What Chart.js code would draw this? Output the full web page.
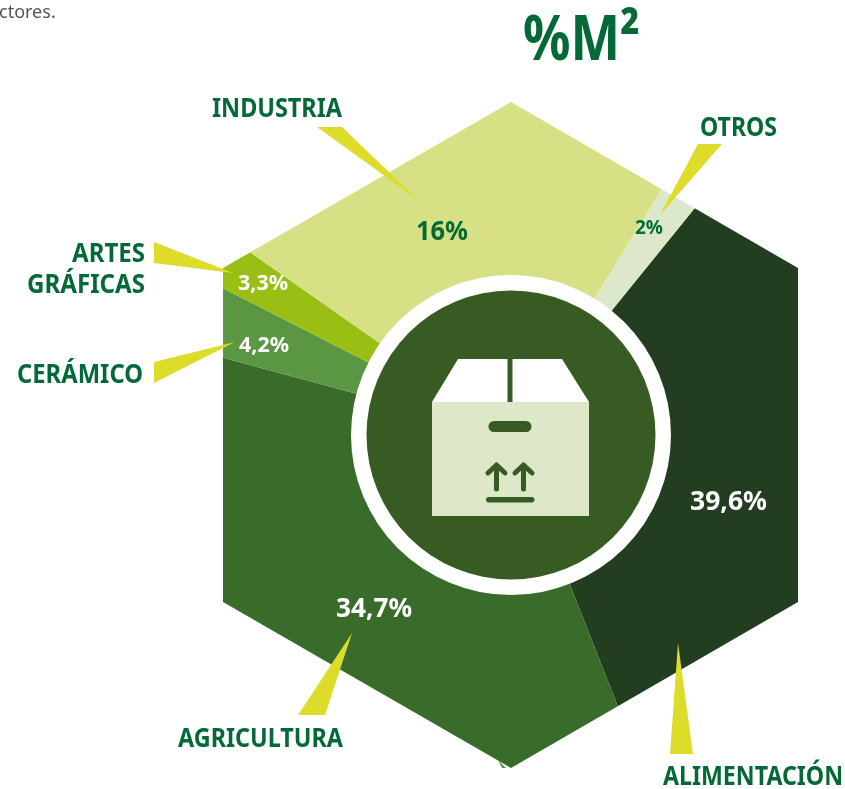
<!DOCTYPE html>
<html lang="es">
<head>
<meta charset="utf-8">
<style>html,body{margin:0;padding:0;background:#fff;overflow:hidden}canvas{display:block}</style>
<script src="https://cdn.jsdelivr.net/npm/chart.js@4"></script>
</head>
<body>
<canvas id="c" width="845" height="789"></canvas>
<script>
const categories = ['ALIMENTACIÓN', 'AGRICULTURA', 'CERÁMICO', 'ARTES GRÁFICAS', 'INDUSTRIA', 'OTROS'];
// Percentages as printed on the reference.
const printedShares = ['39,6%', '34,7%', '4,2%', '3,3%', '16%', '2%'];
// The reference's wedges are not proportional to its printed percentages,
// so the slices use the sweep angles (degrees) measured on the picture.
const drawnSweepDegrees = [119.5, 126.5, 12, 8, 86.5, 7.5];
const sliceColors = ['#223d20', '#396c2a', '#5b9642', '#99bf15', '#d8e085', '#dce8c9'];

const GREEN = '#036937', YELLOW = '#dddc2a', DISC = '#385a23', BOX = '#dde8c9';
const HEX = [[511,102],[798,268],[798,602],[511,768],[223,602],[223,268]];
const POINTERS = [
  [[317,127],[342,127],[418,200]],
  [[698,144],[722,144],[660,215]],
  [[154,242],[154,263],[233,273]],
  [[154,362],[154,383],[235,342]],
  [[298,715],[325,715],[352,633]],
  [[670,754],[693,754],[678,643]]
];
// text, left x, baseline y, width, font px, colour, weight
const TEXTS = [
  ['ctores.', -1, 18, 57, 18, '#555555', 400],
  ['%M²', 523, 60, 117, 62, GREEN, 700],
  ['INDUSTRIA', 212, 117, 130, 27, GREEN, 700],
  ['OTROS', 700, 136, 77, 27, GREEN, 700],
  ['ARTES', 72, 262, 73, 27, GREEN, 700],
  ['GRÁFICAS', 27, 293, 118, 27, GREEN, 700],
  ['CERÁMICO', 17, 383, 126, 27, GREEN, 700],
  ['AGRICULTURA', 178, 747, 165, 27, GREEN, 700],
  ['ALIMENTACIÓN', 663, 785, 180, 27, GREEN, 700],
  [printedShares[4], 416, 240, 52, 27, GREEN, 700],
  [printedShares[5], 635, 234, 28, 19, GREEN, 700],
  [printedShares[3], 238, 290, 50, 22, '#ffffff', 700],
  [printedShares[2], 239, 352, 50, 22, '#ffffff', 700],
  [printedShares[0], 690, 510, 77, 27, '#ffffff', 700],
  [printedShares[1], 336, 617, 76, 27, '#ffffff', 700]
];

function poly(ctx, pts, fill) {
  ctx.beginPath();
  pts.forEach((p, i) => i ? ctx.lineTo(p[0], p[1]) : ctx.moveTo(p[0], p[1]));
  ctx.closePath();
  if (fill) { ctx.fillStyle = fill; ctx.fill(); }
}
function roundBar(ctx, x, y, w, h, fill) {
  ctx.beginPath();
  ctx.roundRect(x, y, w, h, h / 2);
  ctx.fillStyle = fill;
  ctx.fill();
}
function arrow(ctx, x) {
  ctx.strokeStyle = DISC;
  ctx.lineWidth = 5;
  ctx.lineCap = 'round';
  ctx.lineJoin = 'round';
  ctx.beginPath();
  ctx.moveTo(x, 489); ctx.lineTo(x, 466);
  ctx.moveTo(x - 8.5, 473); ctx.lineTo(x, 465); ctx.lineTo(x + 8.5, 473);
  ctx.stroke();
}

const hexagonPie = {
  id: 'hexagonPie',
  beforeDatasetsDraw(chart) {
    const ctx = chart.ctx;
    ctx.save();
    poly(ctx, HEX);
    ctx.clip();
  },
  afterDatasetsDraw(chart) {
    const ctx = chart.ctx;
    ctx.restore();
    const arc = chart.getDatasetMeta(0).data[0];
    const cx = arc.x, cy = arc.y;
    ctx.save();
    poly(ctx, [[498,760],[506,768],[502,768]], sliceColors[2]);
    ctx.beginPath(); ctx.arc(cx, cy, 160, 0, Math.PI * 2); ctx.fillStyle = '#fff'; ctx.fill();
    ctx.beginPath(); ctx.arc(cx, cy, 144.5, 0, Math.PI * 2); ctx.fillStyle = DISC; ctx.fill();
    // parcel icon
    poly(ctx, [[458,359],[562,359],[589,402],[432,402]], '#ffffff');
    ctx.fillStyle = DISC; ctx.fillRect(507.5, 359, 5, 43);
    ctx.fillStyle = BOX; ctx.fillRect(432, 402, 157, 114);
    roundBar(ctx, 488.5, 421, 43, 11, DISC);
    arrow(ctx, 496.5); arrow(ctx, 523.5);
    roundBar(ctx, 486, 497, 48.5, 5.5, DISC);
    POINTERS.forEach(t => poly(ctx, t, YELLOW));
    ctx.textAlign = 'left';
    ctx.textBaseline = 'alphabetic';
    TEXTS.forEach(([s, x, y, w, size, col, weight]) => {
      ctx.font = `${weight} ${size}px "Noto Sans", "Open Sans", sans-serif`;
      ctx.fillStyle = col;
      ctx.fillText(s, x, y, w);
    });
    ctx.restore();
  }
};

new Chart(document.getElementById('c'), {
  type: 'doughnut',
  data: {
    labels: categories,
    datasets: [{
      data: drawnSweepDegrees,
      backgroundColor: sliceColors,
      borderWidth: 0,
      radius: 345,
      cutout: 150
    }]
  },
  options: {
    responsive: false,
    animation: false,
    rotation: 39,
    layout: { padding: { left: 177, right: 0, top: 81, bottom: 0 } },
    plugins: { legend: { display: false }, tooltip: { enabled: false }, title: { display: false } }
  },
  plugins: [hexagonPie]
});
</script>
</body>
</html>
